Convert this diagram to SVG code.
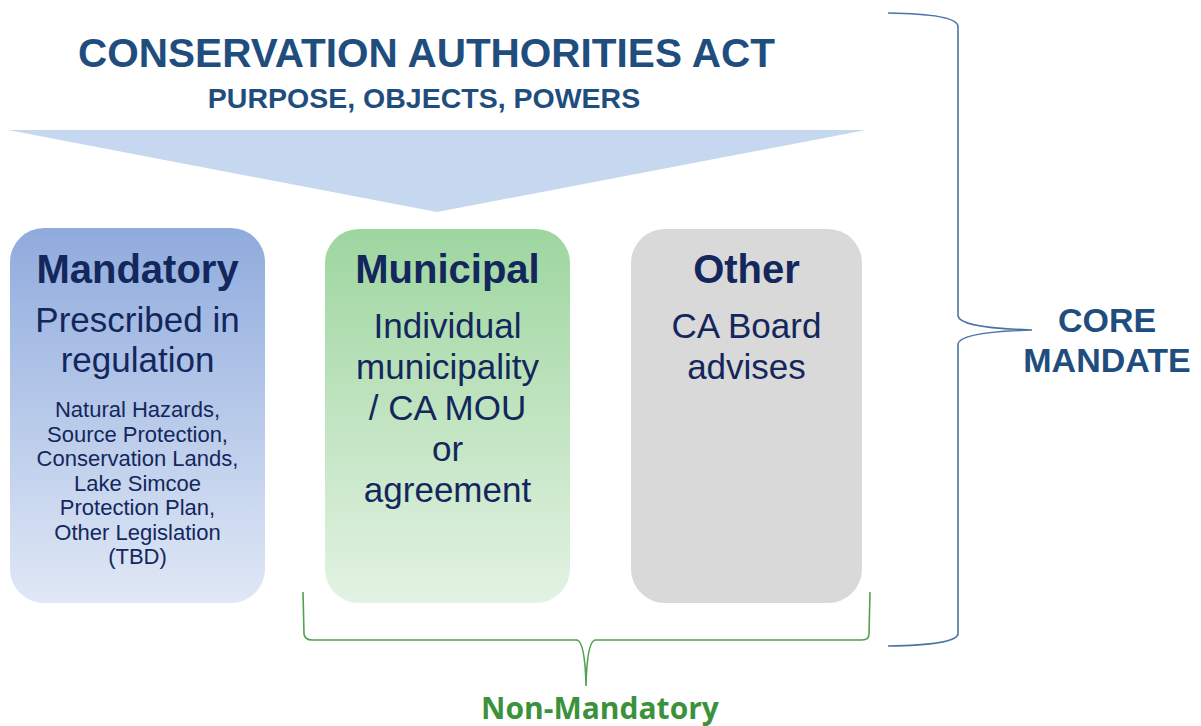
<svg xmlns="http://www.w3.org/2000/svg" width="1201" height="726" viewBox="0 0 1201 726">
<defs>
<linearGradient id="gBlue" x1="0" y1="0" x2="0" y2="1">
<stop offset="0" stop-color="#8fabdd"/>
<stop offset="1" stop-color="#e0e8f6"/>
</linearGradient>
<linearGradient id="gGreen" x1="0" y1="0" x2="0" y2="1">
<stop offset="0" stop-color="#9ed69f"/>
<stop offset="1" stop-color="#e3f2e3"/>
</linearGradient>
<style>
text{font-family:"Liberation Sans",Arial,sans-serif;text-anchor:middle}
.title{font-weight:bold;fill:#1f4e7e}
.head{font-weight:bold;font-size:40px;fill:#14275c}
.body{font-size:35px;fill:#14275c}
.small{font-size:22px;fill:#14275c}
.brace{fill:none;stroke-width:1.6}
</style>
</defs>
<rect width="1201" height="726" fill="#ffffff"/>

<g id="header">
<text class="title" x="426.5" y="67" font-size="40.5">CONSERVATION AUTHORITIES ACT</text>
<text class="title" x="424" y="108" font-size="28.5">PURPOSE, OBJECTS, POWERS</text>
<polygon points="8,130 866,130 437,212" fill="#c6d8ef"/>
</g>

<g id="mandatory">
<rect x="10" y="228" width="255" height="375" rx="34" fill="url(#gBlue)"/>
<text class="head" x="137.5" y="283">Mandatory</text>
<text class="body" x="137.5" y="332">Prescribed in</text>
<text class="body" x="137.5" y="372">regulation</text>
<text class="small" x="137.5" y="417">Natural Hazards,</text>
<text class="small" x="137.5" y="441.5">Source Protection,</text>
<text class="small" x="137.5" y="466">Conservation Lands,</text>
<text class="small" x="137.5" y="490.5">Lake Simcoe</text>
<text class="small" x="137.5" y="515">Protection Plan,</text>
<text class="small" x="137.5" y="539.5">Other Legislation</text>
<text class="small" x="137.5" y="564">(TBD)</text>
</g>

<g id="municipal">
<rect x="325" y="229" width="245" height="374" rx="34" fill="url(#gGreen)"/>
<text class="head" x="447.5" y="283">Municipal</text>
<text class="body" x="447.5" y="338">Individual</text>
<text class="body" x="447.5" y="379">municipality</text>
<text class="body" x="447.5" y="420">/ CA MOU</text>
<text class="body" x="447.5" y="461">or</text>
<text class="body" x="447.5" y="502">agreement</text>
</g>

<g id="other">
<rect x="631" y="229" width="231" height="374" rx="34" fill="#d9d9d9"/>
<text class="head" x="746.5" y="283">Other</text>
<text class="body" x="746.5" y="338">CA Board</text>
<text class="body" x="746.5" y="379">advises</text>
</g>

<g id="connectors">
<path class="brace" stroke="#4f73a6" d="M888,13 Q956,14 958,26 L958,316 Q960,328 1032,330 Q960,332 958,344 L958,634 Q956,645 888,646"/>
<path class="brace" stroke="#52a152" d="M303,592 L304,634 Q305,640 312,640 L577,640 Q585,642 586,686 Q587,642 595,640 L862,640 Q869,640 869,634 L870,592"/>
</g>

<g id="core">
<text class="title" x="1107" y="332" font-size="34">CORE</text>
<text class="title" x="1107" y="372" font-size="34">MANDATE</text>
</g>

<g id="nonmandatory">
<text x="600" y="719" font-size="30" font-weight="bold" fill="#3c923c" style="font-family:'Open Sans','Noto Sans',sans-serif">Non-Mandatory</text>
</g>
</svg>
